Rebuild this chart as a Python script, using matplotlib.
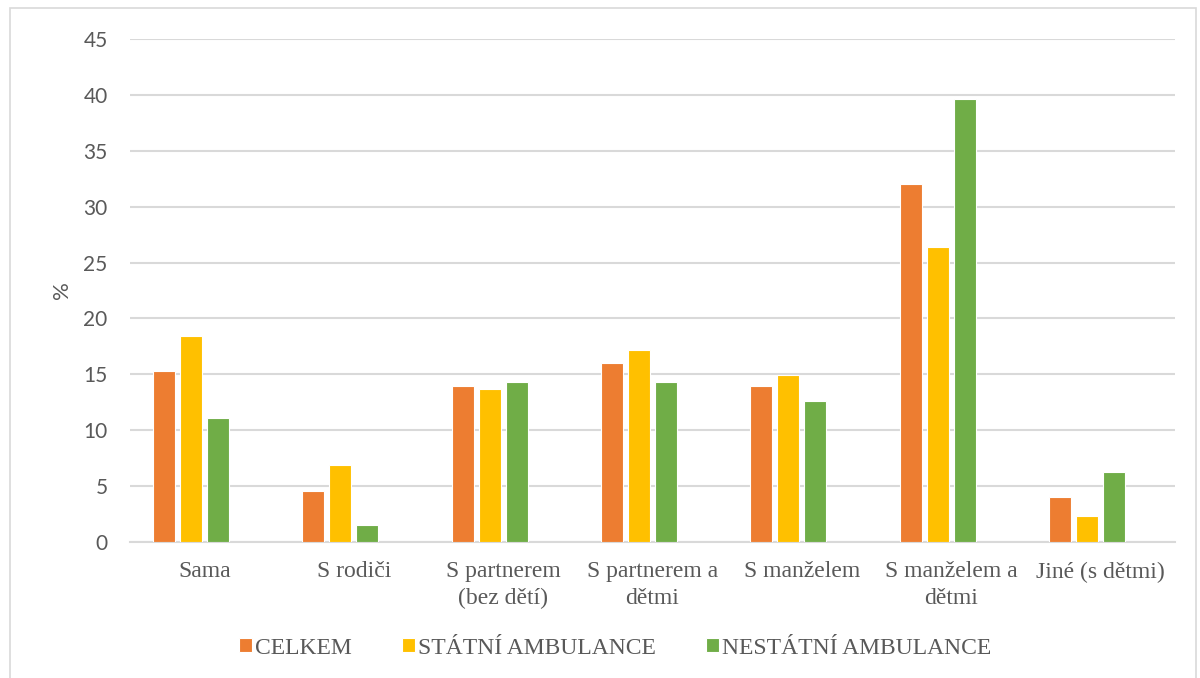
import matplotlib
matplotlib.use("Agg")
import matplotlib.pyplot as plt
import numpy as np
from matplotlib.patches import Rectangle

categories = ["Sama", "S rodiči", "S partnerem\n(bez dětí)", "S partnerem a\ndětmi",
              "S manželem", "S manželem a\ndětmi", "Jiné (s dětmi)"]
series_names = ["CELKEM", "STÁTNÍ AMBULANCE", "NESTÁTNÍ AMBULANCE"]
celkem = [15.3, 4.6, 14.0, 16.0, 14.0, 32.0, 4.0]
statni = [18.4, 6.9, 13.7, 17.2, 14.9, 26.4, 2.3]
nestatni = [11.1, 1.5, 14.3, 14.3, 12.6, 39.6, 6.3]
colors = ["#ED7D31", "#FFC000", "#70AD47"]
y_ticks = [0, 5, 10, 15, 20, 25, 30, 35, 40, 45]

fig = plt.figure(figsize=(12, 6.78), dpi=100)
ax = fig.add_axes([0.1083, 0.2006, 0.8709, 0.7419])

x = np.arange(len(categories))
step = 0.181
width = 0.147
# each category reserves four slots; the fourth one stays empty
for i, (vals, name, col) in enumerate(zip([celkem, statni, nestatni], series_names, colors)):
    ax.bar(x + (i - 1.5) * step, vals, width=width, color=col, edgecolor="white",
           linewidth=0.8, label=name, zorder=3)

ax.set_xlim(-0.5, len(categories) - 0.5)
ax.set_ylim(0, 45)
ax.set_yticks(y_ticks)
ax.set_yticklabels([str(t) for t in y_ticks], fontfamily="Lato", fontsize=15, color="#595959")
ax.set_xticks(x)
ax.set_xticklabels(categories, fontfamily="Liberation Serif", fontsize=17, color="#595959",
                   linespacing=1.35)
ax.tick_params(axis="both", length=0)
ax.tick_params(axis="y", pad=16)
ax.tick_params(axis="x", pad=14)
ax.yaxis.grid(True, color="#D9D9D9", linewidth=1.5, zorder=0)
for s in ["top", "right", "left"]:
    ax.spines[s].set_visible(False)
ax.spines["bottom"].set_color("#D9D9D9")
ax.spines["bottom"].set_linewidth(1.5)

ax.set_ylabel("%", fontfamily="Lato", fontsize=16, color="#595959", labelpad=8)

leg = fig.legend(loc="center", bbox_to_anchor=(0.5125, 0.044), ncol=3, frameon=False,
                 prop={"family": "Liberation Serif", "size": 17},
                 handlelength=0.55, handleheight=0.55, handletextpad=0.15, columnspacing=2.1)
for t in leg.get_texts():
    t.set_color("#595959")

# outer chart frame
fig.patches.append(Rectangle((10 / 1200, -0.01), 1186 / 1200, 1 - 8 / 678 + 0.01,
                             transform=fig.transFigure, fill=False,
                             edgecolor="#D9D9D9", linewidth=1.2))

fig.savefig("out.png", dpi=100)
